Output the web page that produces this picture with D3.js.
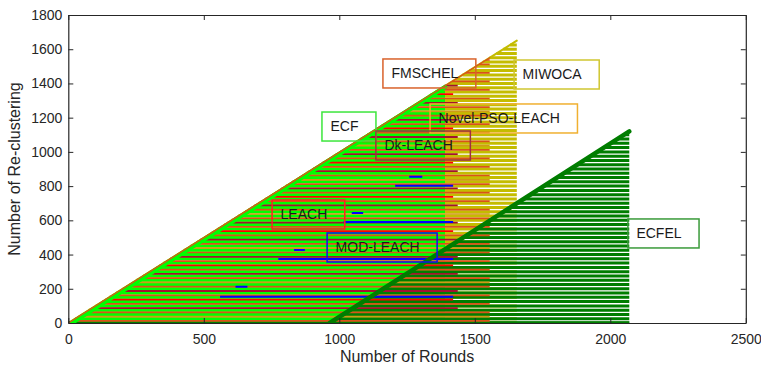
<!DOCTYPE html>
<html><head><meta charset="utf-8">
<script src="https://cdn.jsdelivr.net/npm/d3@7"></script>
<style>body{margin:0;background:#fff}svg{display:block}</style>
</head><body><svg id="c" width="761" height="367"></svg>
<script>
// ---------- data ----------
const xTicks = [0, 500, 1000, 1500, 2000, 2500];
const yTicks = [0, 200, 400, 600, 800, 1000, 1200, 1400, 1600, 1800];

// series: name, first round of the diagonal, last round, final re-clustering count
const names      = ["MIWOCA", "ECF", "ECFEL", "FMSCHEL", "Novel-PSO-LEACH", "Dk-LEACH", "LEACH", "MOD-LEACH"];
const startRound = [0, 12, 965, 0, 0, 0, 0, 0];
const lastRound  = [1655, 1390, 2070, 1555, 1555, 1437, 1420, 1420];
const topCount   = [1650, 1378, 1120, 1550, 1550, 1437, 1420, 1420];

const miwocaLevels = [0,25,50,75,100,125,150,175,200,225,250,275,300,325,350,375,400,425,450,475,500,525,550,575,600,625,650,675,700,725,750,775,800,825,850,875,900,925,950,975,1000,1025,1050,1075,1100,1125,1150,1175,1200,1225,1250,1275,1300,1325,1350,1375,1400,1425,1450,1475,1500,1525,1550,1575,1600,1625,1650];
const ecfLevels = [0,25,50,75,100,125,150,175,200,225,250,275,300,325,350,375,400,425,450,475,500,525,550,575,600,625,650,675,700,725,750,775,800,825,850,875,900,925,950,975,1000,1025,1050,1075,1100,1125,1150,1175,1200,1225,1250,1275,1300,1325,1350,1375];
const ecfelLevels = [0,25,50,75,100,125,150,175,200,225,250,275,300,325,350,375,400,425,450,475,500,525,550,575,600,625,650,675,700,725,750,775,800,825,850,875,900,925,950,975,1000,1025,1050,1075,1100,1120];
const fmschelLevels = [12,62,112,162,212,262,312,362,412,462,512,562,612,662,712,762,812,862,912,962,1012,1062,1112,1162,1212,1262,1312,1362,1412,1462,1512,1537];
const novelLevels = [37,237,437,637,837,1037,1237];
const dkLevels = [87,187,287,387,487,587,687,787,887,987,1087,1187,1287,1387];
const leachLevels = [137,337,537,737,937,1137,1337];
// MOD-LEACH segments: [from round, to round, count]
const modSegments = [[617,661,212],[833,873,427],[1046,1088,643],[1258,1306,855],[560,1420,154],[775,1420,374],[1016,1420,590],[1206,1420,802]];

const colors = {
  "MIWOCA":"#c4bc00", "ECF":"#00ff00", "ECFEL":"#007d00", "FMSCHEL":"#d95319",
  "Novel-PSO-LEACH":"#cf9a16", "Dk-LEACH":"#a2142f", "LEACH":"#ff0000", "MOD-LEACH":"#0000ff"
};
const boxColors = {
  "ECF":"#3ce63c", "FMSCHEL":"#d9622b", "MIWOCA":"#cfc630", "Novel-PSO-LEACH":"#f0b030",
  "Dk-LEACH":"#a03040", "LEACH":"#ff2020", "MOD-LEACH":"#1010ee", "ECFEL":"#3a9a3a"
};
// label boxes: name, box left (round), box top (count)
const labelNames = ["ECF","FMSCHEL","MIWOCA","Novel-PSO-LEACH","Dk-LEACH","LEACH","MOD-LEACH","ECFEL"];
const labelX = [936, 1161, 1645, 1335, 1135, 752, 955, 2065];
const labelY = [1233, 1543, 1537, 1280, 1122, 719, 526, 608];

// ---------- chart ----------
const svg = d3.select("#c");
const L = 68.3, R = 745.8, T = 15, B = 323;
const x = d3.scaleLinear([0, 2500], [L, R]);
const y = d3.scaleLinear([0, 1800], [B, T]);
const axisColor = "#262626";
const font = "'Liberation Sans', Arial, Helvetica, sans-serif";

svg.append("clipPath").attr("id","clip").append("rect")
  .attr("x", L).attr("y", T).attr("width", R-L).attr("height", B-T);
const g = svg.append("g").attr("clip-path","url(#clip)");

function idx(n){ return names.indexOf(n); }
function startAt(n, lev){
  const i = idx(n);
  return startRound[i] + (lastRound[i]-startRound[i]) * lev / topCount[i];
}
function hLines(n, levels, w){
  const i = idx(n);
  g.append("g").selectAll("line").data(levels).join("line")
    .attr("x1", d => x(startAt(n, d))).attr("x2", x(lastRound[i]))
    .attr("y1", d => y(d)).attr("y2", d => y(d))
    .attr("stroke", colors[n]).attr("stroke-width", w);
}
function diag(n, w, col){
  const i = idx(n);
  g.append("line")
    .attr("x1", x(startRound[i])).attr("y1", y(0))
    .attr("x2", x(lastRound[i])).attr("y2", y(topCount[i]))
    .attr("stroke", col || colors[n]).attr("stroke-width", w).attr("stroke-linecap","round");
}

hLines("MIWOCA", miwocaLevels, 3);
diag("MIWOCA", 2);
hLines("ECF", ecfLevels, 3);
hLines("ECFEL", ecfelLevels, 3);
// ECFEL flat part before its first re-clustering
g.append("line").attr("x1", x(0)).attr("x2", x(lastRound[idx("ECFEL")]))
  .attr("y1", y(ecfelLevels[0])).attr("y2", y(ecfelLevels[0]))
  .attr("stroke", colors["ECFEL"]).attr("stroke-width", 3.5);
hLines("FMSCHEL", fmschelLevels, 1.7);
hLines("Novel-PSO-LEACH", novelLevels, 1.7);
hLines("Dk-LEACH", dkLevels, 1.8);
hLines("LEACH", leachLevels, 1.8);
g.append("g").selectAll("line").data(modSegments).join("line")
  .attr("x1", d => x(d[0])).attr("x2", d => x(d[1]))
  .attr("y1", d => y(d[2])).attr("y2", d => y(d[2]))
  .attr("stroke", colors["MOD-LEACH"]).attr("stroke-width", 2);
diag("ECF", 4.5);
diag("FMSCHEL", 1.3);
diag("ECFEL", 4.5);

// axes
const ax = svg.append("g").attr("font-family", font);
function styleAxis(sel){
  sel.selectAll("path").attr("stroke", axisColor).attr("stroke-width", 1.2);
  sel.selectAll("line").attr("stroke", axisColor).attr("stroke-width", 1);
  sel.selectAll("text").attr("fill", axisColor).attr("font-size", 14).attr("font-family", font);
}
ax.append("g").attr("transform", `translate(0,${B})`)
  .call(d3.axisBottom(x).tickValues(xTicks).tickSizeInner(-5).tickSizeOuter(0).tickPadding(11).tickFormat(d3.format("d")))
  .call(styleAxis);
ax.append("g").attr("transform", `translate(${L},0)`)
  .call(d3.axisLeft(y).tickValues(yTicks).tickSizeInner(-5).tickSizeOuter(0).tickPadding(6).tickFormat(d3.format("d")))
  .call(styleAxis);
ax.append("g").attr("transform", `translate(0,${T})`)
  .call(d3.axisTop(x).tickValues(xTicks).tickSizeInner(-5).tickSizeOuter(0).tickFormat(""))
  .call(styleAxis);
ax.append("g").attr("transform", `translate(${R},0)`)
  .call(d3.axisRight(y).tickValues(yTicks).tickSizeInner(-5).tickSizeOuter(0).tickFormat(""))
  .call(styleAxis);

svg.append("text").attr("x", (L+R)/2).attr("y", 362).attr("text-anchor","middle")
  .attr("font-family", font).attr("font-size", 16).attr("fill", axisColor).text("Number of Rounds");
svg.append("text").attr("transform", `translate(20,${(T+B)/2}) rotate(-90)`).attr("text-anchor","middle")
  .attr("font-family", font).attr("font-size", 16).attr("fill", axisColor).text("Number of Re-clustering");

// labels
labelNames.forEach((n, i) => {
  const bx = x(labelX[i]), by = y(labelY[i]);
  const grp = svg.append("g");
  const t = grp.append("text").attr("x", bx + 8.5).attr("y", by + 14.5).attr("dy", "0.35em")
    .attr("font-family", font).attr("font-size", 14).attr("fill", "#1a1a1a").text(n);
  const w = t.node().getComputedTextLength();
  grp.insert("rect", "text").attr("x", bx).attr("y", by).attr("width", w + 26).attr("height", 29)
    .attr("fill", "none").attr("stroke", boxColors[n]).attr("stroke-width", 1.5);
});
</script>
</body></html>
